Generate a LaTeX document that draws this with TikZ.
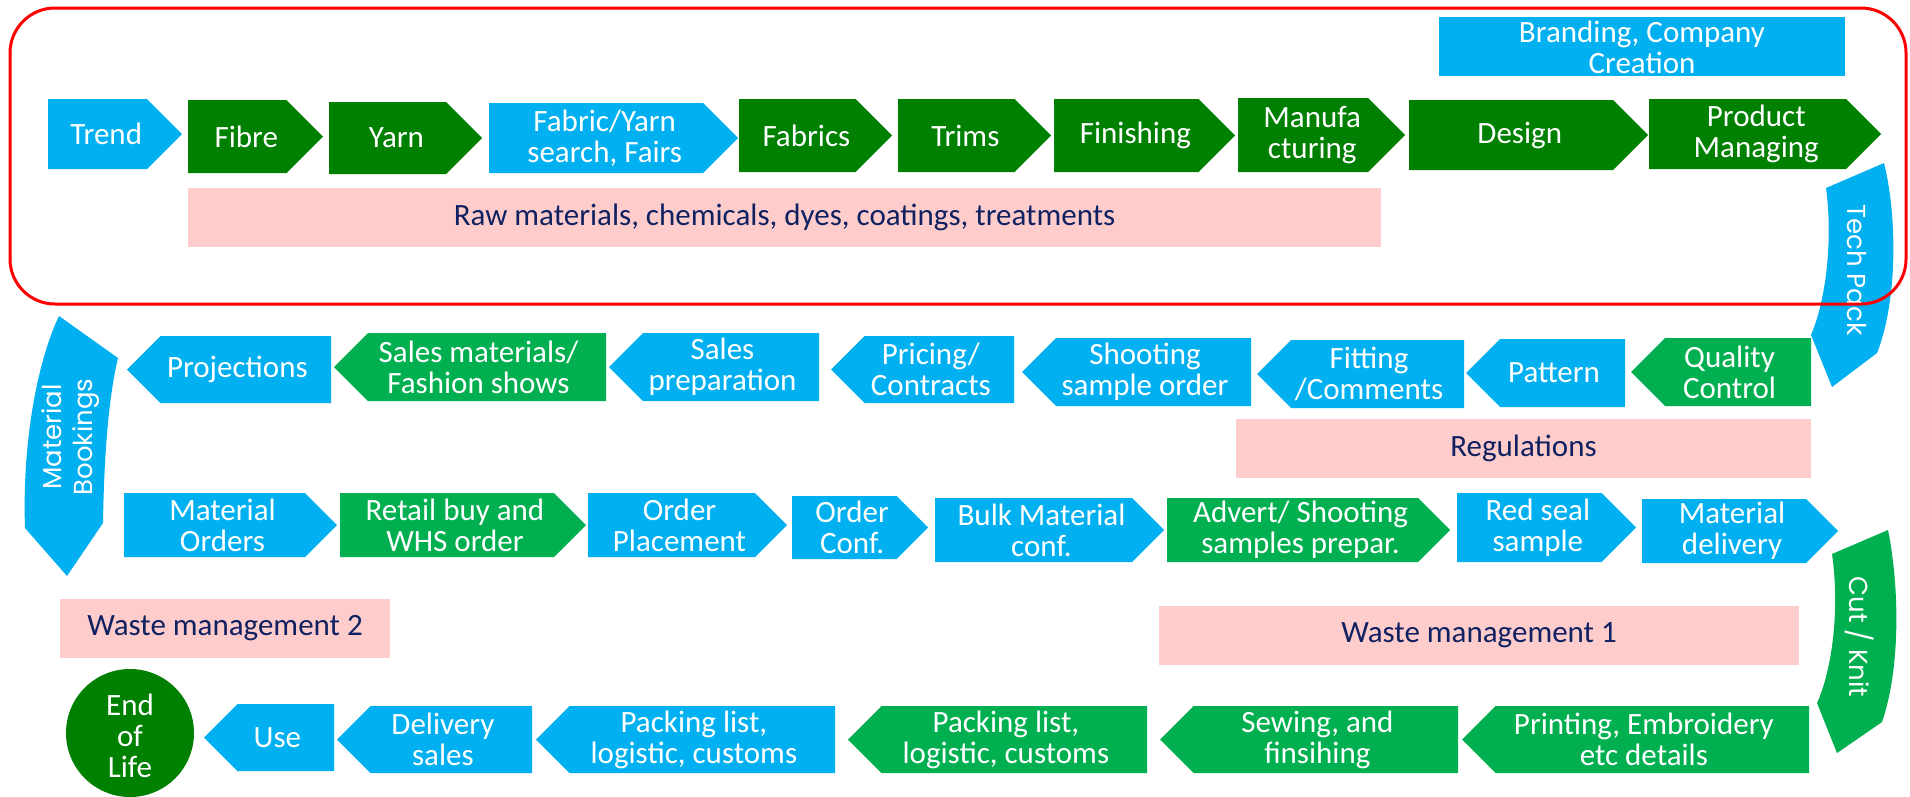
\documentclass[tikz,border=0pt]{standalone}
\usepackage{fontspec}
\setmainfont{Carlito}
\newfontfamily\geofont{Poppins}
\definecolor{cblue}{HTML}{00B0F0}
\definecolor{dgreen}{HTML}{008000}
\definecolor{lgreen}{HTML}{00B050}
\definecolor{cpink}{HTML}{FFCCCC}
\definecolor{navy}{HTML}{0F2160}
\definecolor{redc}{HTML}{FF0000}
\tikzset{
  lbl/.style={text=white, align=center, inner sep=0pt, font=\fontsize{31}{31}\selectfont},
  bandtxt/.style={text=navy, inner sep=0pt, font=\fontsize{31}{31}\selectfont},
  arclbl/.style={text=white, align=center, inner sep=0pt, font=\geofont\fontsize{26}{31}\selectfont},
  frame/.style={draw=redc, line width=3pt, rounded corners=45pt},
}
% right-pointing chevron: name, colour, x1, x2, y1, y2, text
\newcommand{\chevR}[7]{%
  \fill[#2] (#3,#5) -- ({#4-(#6-#5)/2},#5) -- (#4,{(#5+#6)/2}) -- ({#4-(#6-#5)/2},#6) -- (#3,#6) -- cycle;
  \node[lbl] (#1) at ({(#3+#4)/2-(#6-#5)/8},{(#5+#6)/2}) {#7};
}
% left-pointing chevron
\newcommand{\chevL}[7]{%
  \fill[#2] (#4,#5) -- ({#3+(#6-#5)/2},#5) -- (#3,{(#5+#6)/2}) -- ({#3+(#6-#5)/2},#6) -- (#4,#6) -- cycle;
  \node[lbl] (#1) at ({(#3+#4)/2+(#6-#5)/8},{(#5+#6)/2}) {#7};
}
% band: name, x1, x2, y1, y2, text
\newcommand{\band}[6]{%
  \fill[cpink] (#2,#4) rectangle (#3,#5);
  \node[bandtxt] (#1) at ({(#2+#3)/2},{(#4+#5)/2}) {#6};
}
\begin{document}
\begin{tikzpicture}[x=1pt,y=-1pt]
\useasboundingbox (0,0) rectangle (1910,796);
\fill[white] (0,0) rectangle (1910,796);

% top row
\chevR{trend}{cblue}{48}{182}{99}{169}{Trend}
\chevR{fibre}{dgreen}{188}{323}{100}{173}{Fibre}
\chevR{yarn}{dgreen}{329}{482}{102}{174}{Yarn}
\chevR{fabsearch}{cblue}{489}{738}{103}{173}{Fabric/Yarn\\search, Fairs}
\chevR{fabrics}{dgreen}{739}{892}{99}{172}{Fabrics}
\chevR{trims}{dgreen}{898}{1051}{99}{172}{Trims}
\chevR{finishing}{dgreen}{1054}{1235}{99}{172}{Finishing}
\chevR{manuf}{dgreen}{1238}{1405}{98}{172}{Manufa\\cturing}
\chevR{design}{dgreen}{1409}{1648}{100}{170}{Design}
\chevR{prodman}{dgreen}{1649}{1881}{99}{169}{Product\\Managing}

\fill[cblue] (1439,17) rectangle (1845,76);
\node[lbl] (branding) at (1642,47) {Branding, Company\\Creation};

\band{raw}{188}{1381}{188}{247}{Raw materials, chemicals, dyes, coatings, treatments}

% second row
\chevL{proj}{cblue}{127}{331}{336}{403}{Projections}
\chevL{salesmat}{lgreen}{334}{606}{333}{401}{Sales materials/\\Fashion shows}
\chevL{salesprep}{cblue}{609}{819}{333}{401}{Sales\\preparation}
\chevL{pricing}{cblue}{831}{1014}{336}{403}{Pricing/\\Contracts}
\chevL{shooting}{cblue}{1022}{1251}{338}{406}{Shooting\\sample order}
\chevL{fitting}{cblue}{1257}{1464}{340}{408}{Fitting\\/Comments}
\chevL{pattern}{cblue}{1466}{1625}{339}{407}{Pattern}
\chevL{qc}{lgreen}{1631}{1811}{338}{406}{Quality\\Control}

\band{regul}{1236}{1811}{419}{478}{Regulations}

% third row
\chevR{matorders}{cblue}{124}{337}{493}{557}{Material\\Orders}
\chevR{retail}{lgreen}{340}{586}{493}{557}{Retail buy and\\WHS order}
\chevR{orderplace}{cblue}{588}{787}{493}{557}{Order\\Placement}
\chevR{orderconf}{cblue}{792}{928}{496}{559}{Order\\Conf.}
\chevR{bulk}{cblue}{935}{1164}{498}{562}{Bulk Material\\conf.}
\chevR{advert}{lgreen}{1167}{1450}{498}{562}{Advert/ Shooting\\samples prepar.}
\chevR{redseal}{cblue}{1457}{1636}{493}{562}{Red seal\\sample}
\chevR{matdeliv}{cblue}{1642}{1838}{499}{563}{Material\\delivery}

\band{waste1}{1159}{1799}{606}{665}{Waste management 1}
\band{waste2}{60}{390}{599}{658}{Waste management 2}

% fourth row
\node[circle, fill=dgreen, minimum size=128pt, inner sep=0pt] (eolc) at (130,733) {};
\node[lbl] (eol) at (130,736) {End\\of\\Life};
\chevL{use}{cblue}{204}{334}{704}{771}{Use}
\chevL{delivsales}{cblue}{337}{532}{706}{773}{Delivery\\sales}
\chevL{packone}{cblue}{536}{835}{706}{773}{Packing list,\\logistic, customs}
\chevL{packtwo}{lgreen}{848}{1147}{706}{773}{Packing list,\\logistic, customs}
\chevL{sewing}{lgreen}{1160}{1458}{706}{773}{Sewing, and\\finsihing}
\chevL{printing}{lgreen}{1462}{1809}{706}{773}{Printing, Embroidery\\etc details}

% curved arrows
\fill[cblue] (1826,188) -- (1884,163) .. controls (1897,215) and (1898,300) .. (1877,353)
  -- (1832,387) -- (1811,335) .. controls (1826,300) and (1833,240) .. (1826,188) -- cycle;
\node[arclbl, rotate=-90] (techpack) at (1857,270) {Tech Pack};

\fill[lgreen] (1832,554) -- (1888,530) .. controls (1900,590) and (1900,670) .. (1882,722)
  -- (1837,753) -- (1817,703) .. controls (1832,670) and (1840,610) .. (1832,554) -- cycle;
\node[arclbl, rotate=-90] (cutknit) at (1860,637) {Cut / Knit};

\fill[cblue] (59,316) -- (118,358) .. controls (108,400) and (104,460) .. (103,523)
  -- (67,576) -- (25,528) .. controls (22,440) and (38,360) .. (59,316) -- cycle;
\node[arclbl, rotate=90] (matbook) at (71,437) {Material\\Bookings};

% red frame
\draw[frame] (10,8) rectangle (1906,304);
\end{tikzpicture}
\end{document}
